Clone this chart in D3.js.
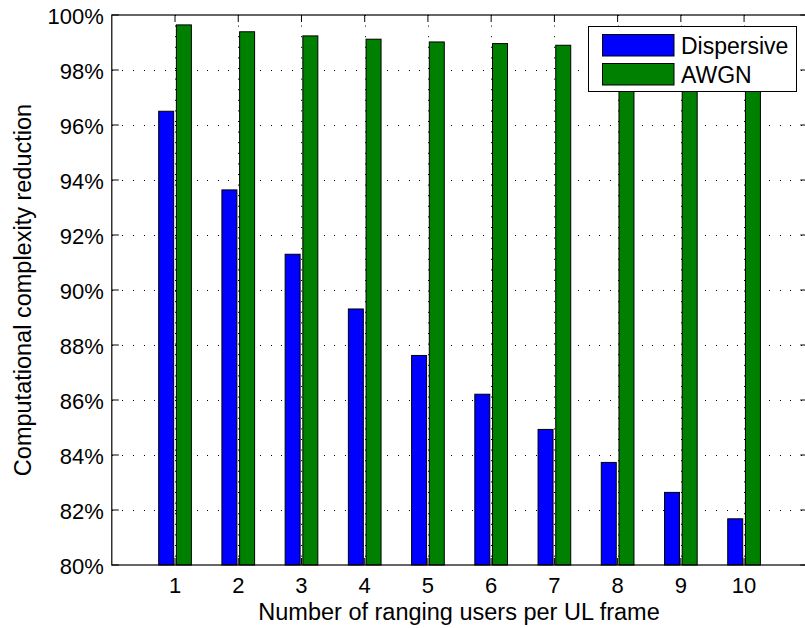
<!DOCTYPE html>
<html><head><meta charset="utf-8">
<script src="https://cdn.jsdelivr.net/npm/d3@7"></script>
<style>body{margin:0;background:#fff;} svg{display:block;} text{font-family:"Liberation Sans",Arial,sans-serif;}</style>
</head><body>
<script>
const categories = [1,2,3,4,5,6,7,8,9,10];
const dispersive = [96.5, 93.64, 91.3, 89.31, 87.62, 86.21, 84.93, 83.73, 82.64, 81.68];
const awgn = [99.64, 99.39, 99.24, 99.12, 99.02, 98.96, 98.9, 98.85, 98.8, 98.76];
const yTicks = [80,82,84,86,88,90,92,94,96,98,100];
const seriesNames = ["Dispersive","AWGN"];
const colors = ["#0000ff","#008000"];

const W=805,H=628;
const L=111.8,R=807.3,T=15,B=565;
const svg=d3.select("body").append("svg").attr("width",W).attr("height",H);
const x=d3.scaleLinear().domain([0,11]).range([L,R]);
const y=d3.scaleLinear().domain([80,100]).range([B,T]);

// grid
const g=svg.append("g");
g.selectAll("line.gy").data(yTicks.slice(1,-1)).join("line")
 .attr("x1",L).attr("x2",R).attr("y1",d=>y(d)).attr("y2",d=>y(d))
 .attr("stroke","#000").attr("stroke-width",1).attr("stroke-dasharray","1,9.6").attr("shape-rendering","crispEdges");
g.selectAll("line.gx").data(categories).join("line")
 .attr("x1",d=>Math.round(x(d))+0.5).attr("x2",d=>Math.round(x(d))+0.5).attr("y1",T).attr("y2",B)
 .attr("stroke","#000").attr("stroke-width",1).attr("stroke-dasharray","1,9.6");

// bars
const bw=0.237, off=0.14;
const series=[dispersive,awgn];
series.forEach((vals,si)=>{
  svg.append("g").selectAll("rect").data(categories).join("rect")
   .attr("x",(d,i)=>x(d+(si===0?-off:off)-bw/2))
   .attr("width",x(bw)-x(0))
   .attr("y",(d,i)=>y(vals[i]))
   .attr("height",(d,i)=>y(80)-y(vals[i]))
   .attr("fill",colors[si]).attr("stroke","#000").attr("stroke-width",1);
});

// axes box
svg.append("rect").attr("x",L).attr("y",T).attr("width",R-L).attr("height",B-T)
 .attr("fill","none").attr("stroke","#000").attr("stroke-width",1.2);

// ticks
const tl=7;
const ax=svg.append("g").attr("stroke","#000").attr("stroke-width",1);
yTicks.forEach(v=>{
  ax.append("line").attr("x1",L).attr("x2",L+tl).attr("y1",y(v)).attr("y2",y(v));
  ax.append("line").attr("x1",R).attr("x2",R-tl).attr("y1",y(v)).attr("y2",y(v));
});
categories.forEach(c=>{
  ax.append("line").attr("x1",x(c)).attr("x2",x(c)).attr("y1",B).attr("y2",B-tl);
  ax.append("line").attr("x1",x(c)).attr("x2",x(c)).attr("y1",T).attr("y2",T+tl);
});

// tick labels
svg.append("g").selectAll("text").data(yTicks).join("text")
 .attr("x",L-8).attr("y",d=>y(d)).attr("dy","0.4em").attr("text-anchor","end")
 .attr("font-size",22).text(d=>d+"%");
svg.append("g").selectAll("text").data(categories).join("text")
 .attr("x",d=>x(d)).attr("y",593).attr("text-anchor","middle")
 .attr("font-size",22).text(d=>d);

// axis labels
svg.append("text").attr("x",459).attr("y",620).attr("text-anchor","middle")
 .attr("font-size",23.5).text("Number of ranging users per UL frame");
svg.append("text").attr("transform","translate(31,"+((T+B)/2)+") rotate(-90)")
 .attr("text-anchor","middle").attr("font-size",23.5).text("Computational complexity reduction");

// legend
const lg=svg.append("g");
lg.append("rect").attr("x",588.5).attr("y",26.5).attr("width",208).attr("height",65)
 .attr("fill","#fff").attr("stroke","#000").attr("stroke-width",1);
seriesNames.forEach((n,i)=>{
  const yy=34.5+i*29;
  lg.append("rect").attr("x",602.5).attr("y",yy).attr("width",71.5).attr("height",21.5)
   .attr("fill",colors[i]).attr("stroke","#000").attr("stroke-width",1);
  lg.append("text").attr("x",681).attr("y",53.5+i*29).attr("font-size",23).text(n);
});
</script>
</body></html>
